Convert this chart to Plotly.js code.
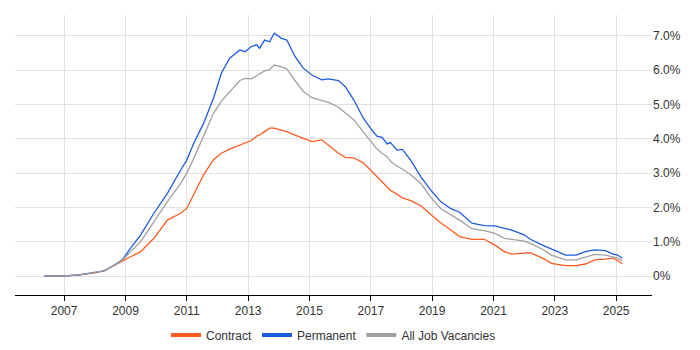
<!DOCTYPE html>
<html>
<head>
<meta charset="utf-8">
<script src="https://cdn.plot.ly/plotly-3.0.1.min.js"></script>
<style>html,body{margin:0;padding:0;background:#fff;}#chart{width:700px;height:350px;}</style>
</head>
<body>
<div id="chart"></div>
<script>
const dates = ["2006-05-08","2007-01-01","2007-07-01","2008-01-01","2008-04-20","2008-08-08","2008-11-24","2009-03-03","2009-07-01","2009-12-05",
  "2010-05-15","2010-10-20","2011-01-01","2011-03-25","2011-07-20","2011-11-17","2012-02-17","2012-05-26","2012-09-24","2012-11-25",
  "2013-02-07","2013-04-14","2013-05-16","2013-07-16","2013-09-13","2013-11-07","2014-02-03","2014-04-06","2014-07-13","2014-10-20",
  "2015-01-30","2015-05-27","2015-08-15","2015-12-13","2016-03-03","2016-06-13","2016-10-04","2017-01-12","2017-03-15","2017-05-16",
  "2017-07-13","2017-08-22","2017-11-10","2018-01-12","2018-04-20","2018-08-19","2018-12-13","2019-04-13","2019-08-08","2019-11-24",
  "2020-04-20","2020-09-13","2021-01-19","2021-05-09","2021-08-08","2022-01-01","2022-03-15","2022-08-08","2022-11-24","2023-05-09",
  "2023-09-13","2024-01-01","2024-04-20","2024-08-26","2024-11-24","2025-01-19","2025-03-15"];
const contract = [0,0,0.03,0.09,0.15,0.3,0.45,0.56,0.71,1.1,
  1.63,1.83,1.97,2.38,2.95,3.4,3.58,3.7,3.82,3.88,
  3.95,4.08,4.11,4.21,4.31,4.31,4.26,4.21,4.11,4.02,
  3.92,3.97,3.82,3.58,3.46,3.44,3.3,3.05,2.9,2.75,
  2.6,2.5,2.38,2.28,2.2,2.05,1.8,1.55,1.35,1.15,
  1.07,1.07,0.9,0.71,0.64,0.66,0.68,0.52,0.37,0.3,
  0.3,0.35,0.47,0.49,0.52,0.45,0.35];
const permanent = [0,0,0.03,0.1,0.15,0.3,0.47,0.81,1.2,1.83,
  2.41,3.09,3.38,3.87,4.45,5.2,5.91,6.35,6.59,6.54,
  6.69,6.74,6.64,6.88,6.83,7.08,6.93,6.88,6.4,6.06,
  5.86,5.72,5.75,5.7,5.52,5.13,4.6,4.26,4.08,4.04,
  3.85,3.89,3.67,3.69,3.38,2.9,2.51,2.17,1.97,1.86,
  1.54,1.47,1.46,1.39,1.34,1.2,1.07,0.9,0.78,0.61,
  0.61,0.71,0.76,0.74,0.64,0.61,0.52];
const allJobs = [0,0,0.03,0.1,0.15,0.3,0.46,0.71,1.0,1.58,
  2.17,2.7,3.0,3.43,4.06,4.75,5.1,5.38,5.7,5.76,
  5.75,5.84,5.88,5.98,6.01,6.15,6.1,6.04,5.7,5.38,
  5.2,5.12,5.06,4.92,4.75,4.55,4.2,3.9,3.7,3.58,
  3.48,3.35,3.2,3.12,2.95,2.7,2.3,1.97,1.8,1.63,
  1.38,1.32,1.24,1.1,1.07,1.02,0.95,0.78,0.61,0.47,
  0.47,0.55,0.63,0.61,0.56,0.52,0.45];
const seriesNames = ["Contract","Permanent","All Job Vacancies"];
const seriesColors = ["#FF5A1F","#1A5CE0","#A0A0A0"];
const yTicks = [0,1,2,3,4,5,6,7];
const yTickText = ["0%","1.0%","2.0%","3.0%","4.0%","5.0%","6.0%","7.0%"];

const font = {family: "Liberation Sans, Arial, sans-serif", size: 12, color: "#333"};
const values = [contract, permanent, allJobs];
const traces = [];
values.forEach((v, i) => {
  traces.push({x: dates, y: v, name: seriesNames[i], type: "scatter", mode: "lines",
    line: {color: seriesColors[i], width: 1.3}, showlegend: false, legendgroup: "g" + i});
});
values.forEach((v, i) => {
  traces.push({x: [null], y: [null], name: seriesNames[i], type: "scatter", mode: "lines",
    line: {color: seriesColors[i], width: 4}, showlegend: true, legendgroup: "g" + i});
});
const layout = {
  width: 700, height: 350,
  margin: {l: 15, r: 48, t: 15, b: 55, autoexpand: false},
  paper_bgcolor: "#fff", plot_bgcolor: "#fff",
  font: font,
  showlegend: true,
  legend: {orientation: "h", x: 0.5, xanchor: "center", y: -0.143, yanchor: "middle", font: font, itemwidth: 30, traceorder: "normal"},
  xaxis: {
    type: "date", range: ["2005-05-26", "2026-03-04"],
    tick0: "2007-01-01", dtick: "M24", tickformat: "%Y",
    showgrid: true, gridcolor: "#e0e0e0", gridwidth: 1,
    showline: true, linecolor: "#000", linewidth: 1,
    ticks: "outside", ticklen: 5, tickcolor: "#000",
    zeroline: false, fixedrange: true, automargin: false
  },
  yaxis: {
    side: "right", range: [-0.554, 7.61],
    tickvals: yTicks, ticktext: yTickText,
    showgrid: true, gridcolor: "#e0e0e0", gridwidth: 1,
    zeroline: false, showline: false, ticks: "", fixedrange: true, automargin: false
  }
};
Plotly.newPlot("chart", traces, layout, {displayModeBar: false, staticPlot: true});
</script>
</body>
</html>
